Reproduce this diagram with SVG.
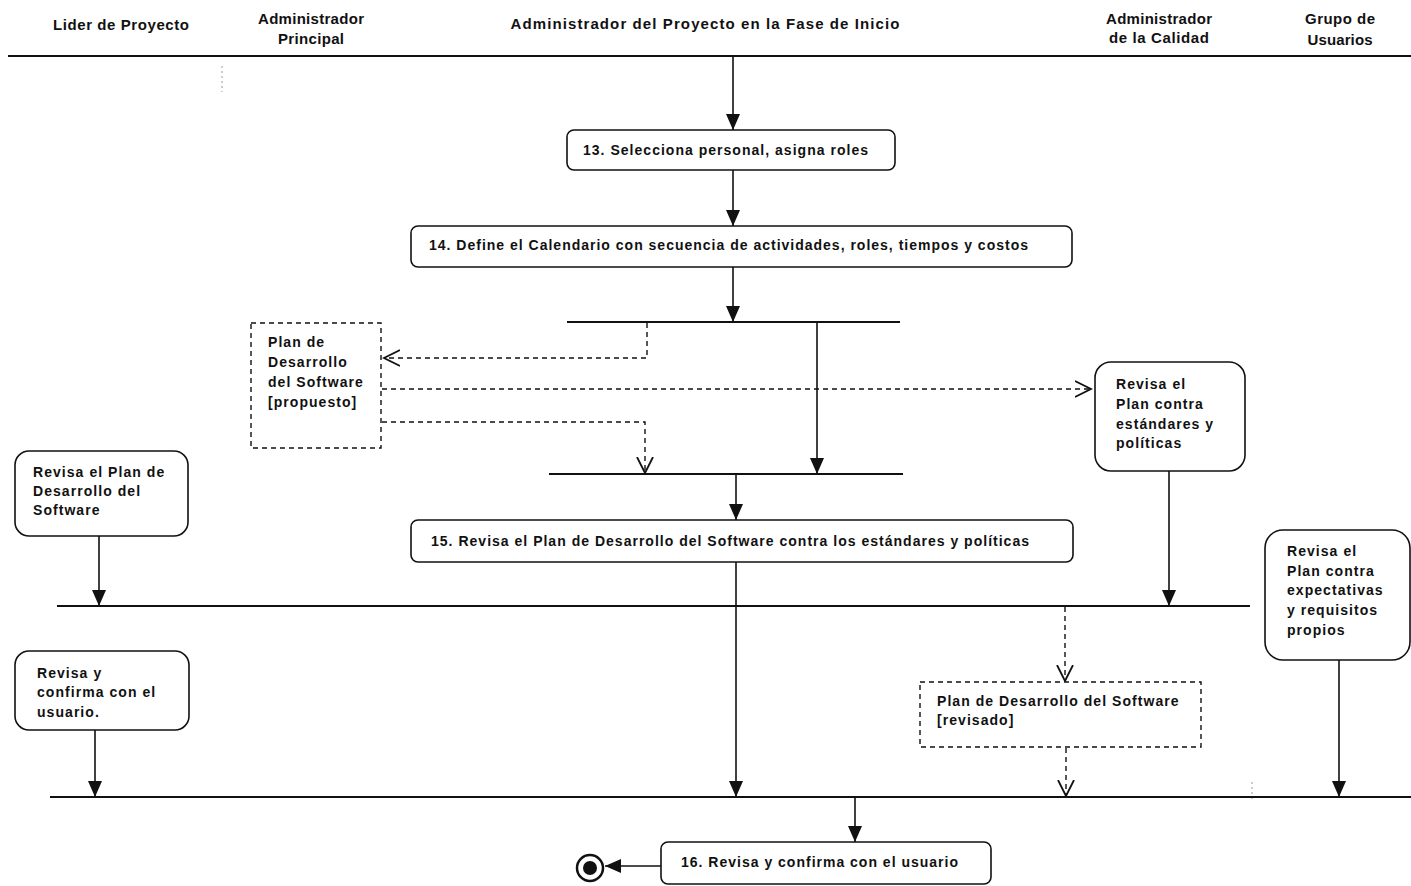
<svg xmlns="http://www.w3.org/2000/svg" width="1411" height="886" viewBox="0 0 1411 886">
  <style>
    text { font-family: "Liberation Sans", Arial, sans-serif; font-weight: bold; font-size: 14px; fill: #111; }
    .hdr { font-size: 15px; }
    .ml { letter-spacing: 1.05px; }
    .act { fill: #fff; stroke: #111; stroke-width: 1.6; }
    .obj { fill: #fff; stroke: #111; stroke-width: 1.4; stroke-dasharray: 5 4; }
    .bar { stroke: #111; stroke-width: 2; fill: none; }
    .flow { stroke: #111; stroke-width: 1.6; fill: none; marker-end: url(#solid); }
    .dflow { stroke: #111; stroke-width: 1.4; fill: none; stroke-dasharray: 5 4; marker-end: url(#open); }
    .lane { stroke: #999; stroke-width: 1; stroke-dasharray: 2 3; fill: none; }
  </style>
  <defs>
    <marker id="solid" markerUnits="userSpaceOnUse" markerWidth="16" markerHeight="14" refX="16" refY="7" orient="auto">
      <path d="M0,0 L16,7 L0,14 z" fill="#111"/>
    </marker>
    <marker id="open" markerUnits="userSpaceOnUse" markerWidth="18" markerHeight="18" refX="16" refY="9" orient="auto">
      <path d="M0,1 L16,9 L0,17" fill="none" stroke="#111" stroke-width="1.8"/>
    </marker>
  </defs>

  <rect width="1411" height="886" fill="#fff"/>

  <!-- swimlane headers -->
  <g id="lanes">
    <text class="hdr" x="121" y="30" text-anchor="middle" textLength="136" lengthAdjust="spacing">Lider de Proyecto</text>
    <text class="hdr" x="311" y="24" text-anchor="middle" textLength="106" lengthAdjust="spacing">Administrador</text>
    <text class="hdr" x="311" y="44" text-anchor="middle" textLength="66" lengthAdjust="spacing">Principal</text>
    <text class="hdr" x="705" y="29" text-anchor="middle" textLength="389" lengthAdjust="spacing">Administrador del Proyecto en la Fase de Inicio</text>
    <text class="hdr" x="1159" y="24" text-anchor="middle" textLength="106" lengthAdjust="spacing">Administrador</text>
    <text class="hdr" x="1159" y="43" text-anchor="middle" textLength="100" lengthAdjust="spacing">de la Calidad</text>
    <text class="hdr" x="1340" y="24" text-anchor="middle" textLength="70" lengthAdjust="spacing">Grupo de</text>
    <text class="hdr" x="1340" y="45" text-anchor="middle" textLength="65" lengthAdjust="spacing">Usuarios</text>
    <path class="bar" d="M8,56 H1411"/>
    <path class="lane" d="M222,66 V92"/>
    <path class="lane" d="M1252,782 V800"/>
  </g>

  <!-- synchronization bars -->
  <g id="bars">
    <path class="bar" d="M567,322 H900"/>
    <path class="bar" d="M549,474 H903"/>
    <path class="bar" d="M57,606 H1250"/>
    <path class="bar" d="M50,797 H1411"/>
  </g>

  <!-- control and object flows -->
  <g id="connectors">
    <path class="flow" d="M733,57 V130"/>
    <path class="flow" d="M733,170 V226"/>
    <path class="flow" d="M733,267 V322"/>
    <path class="dflow" d="M647,323 V358 H384"/>
    <path class="flow" d="M817,323 V474"/>
    <path class="dflow" d="M382,389 H1091"/>
    <path class="dflow" d="M382,422 H645 V473"/>
    <path class="flow" d="M736,475 V520"/>
    <path class="flow" d="M99,536 V606"/>
    <path class="flow" d="M1169,471 V606"/>
    <path class="flow" d="M736,562 V797"/>
    <path class="dflow" d="M1065,607 V681"/>
    <path class="dflow" d="M1066,748 V796"/>
    <path class="flow" d="M95,730 V797"/>
    <path class="flow" d="M1339,660 V797"/>
    <path class="flow" d="M855,798 V842"/>
    <path class="flow" d="M661,866 H605"/>
  </g>

  <g id="n13">
    <rect class="act" x="567" y="130" width="328" height="40" rx="7"/>
    <text x="583" y="155" textLength="285" lengthAdjust="spacing">13. Selecciona personal, asigna roles</text>
  </g>

  <g id="n14">
    <rect class="act" x="411" y="226" width="661" height="41" rx="7"/>
    <text x="429" y="250" textLength="599" lengthAdjust="spacing">14. Define el Calendario con secuencia de actividades, roles, tiempos y costos</text>
  </g>

  <g id="plan-propuesto">
    <rect class="obj" x="251" y="323" width="130" height="125"/>
    <text class="ml" x="268" y="347">Plan de</text>
    <text class="ml" x="268" y="367">Desarrollo</text>
    <text class="ml" x="268" y="387">del Software</text>
    <text class="ml" x="268" y="407">[propuesto]</text>
  </g>

  <g id="calidad-revisa">
    <rect class="act" x="1095" y="362" width="150" height="109" rx="16"/>
    <text class="ml" x="1116" y="389">Revisa el</text>
    <text class="ml" x="1116" y="409">Plan contra</text>
    <text class="ml" x="1116" y="429">estándares y</text>
    <text class="ml" x="1116" y="448">políticas</text>
  </g>

  <g id="lider-revisa">
    <rect class="act" x="15" y="451" width="173" height="85" rx="14"/>
    <text class="ml" x="33" y="477">Revisa el Plan de</text>
    <text class="ml" x="33" y="496">Desarrollo del</text>
    <text class="ml" x="33" y="515">Software</text>
  </g>

  <g id="n15">
    <rect class="act" x="411" y="520" width="662" height="42" rx="7"/>
    <text x="431" y="546" textLength="598" lengthAdjust="spacing">15. Revisa el Plan de Desarrollo del Software contra los estándares y políticas</text>
  </g>

  <g id="usuarios-revisa">
    <rect class="act" x="1265" y="530" width="145" height="130" rx="18"/>
    <text class="ml" x="1287" y="556">Revisa el</text>
    <text class="ml" x="1287" y="576">Plan contra</text>
    <text class="ml" x="1287" y="595">expectativas</text>
    <text class="ml" x="1287" y="615">y requisitos</text>
    <text class="ml" x="1287" y="635">propios</text>
  </g>

  <g id="lider-confirma">
    <rect class="act" x="15" y="651" width="174" height="79" rx="14"/>
    <text class="ml" x="37" y="678">Revisa y</text>
    <text class="ml" x="37" y="697">confirma con el</text>
    <text class="ml" x="37" y="717">usuario.</text>
  </g>

  <g id="plan-revisado">
    <rect class="obj" x="920" y="682" width="281" height="65"/>
    <text class="ml" x="937" y="706">Plan de Desarrollo del Software</text>
    <text class="ml" x="937" y="725">[revisado]</text>
  </g>

  <g id="n16">
    <rect class="act" x="661" y="842" width="330" height="42" rx="7"/>
    <text x="681" y="867" textLength="277" lengthAdjust="spacing">16. Revisa y confirma con el usuario</text>
  </g>

  <g id="final">
    <circle cx="590" cy="868" r="13" fill="#fff" stroke="#111" stroke-width="2.5"/>
    <circle cx="590" cy="868" r="7" fill="#111"/>
  </g>
</svg>
